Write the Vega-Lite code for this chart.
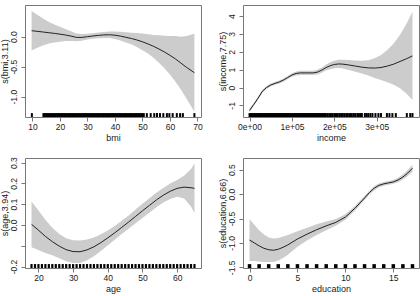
{
"$schema": "https://vega.github.io/schema/vega-lite/v6.json",
"autosize": {"type": "none"},
"padding": {"left": 25, "top": 5, "right": 395, "bottom": 291},
"background": "white",
"datasets": {
"bmi_fit": [
{"x":9.7,"fit":0.100,"lo":-0.230,"hi":0.430},{"x":12,"fit":0.088,"lo":-0.182,"hi":0.358},{"x":14,"fit":0.077,"lo":-0.143,"hi":0.297},{"x":16,"fit":0.066,"lo":-0.114,"hi":0.246},{"x":18,"fit":0.055,"lo":-0.095,"hi":0.205},{"x":20,"fit":0.042,"lo":-0.083,"hi":0.167},{"x":22,"fit":0.028,"lo":-0.072,"hi":0.128},{"x":24,"fit":0.010,"lo":-0.070,"hi":0.090},{"x":26,"fit":-0.012,"lo":-0.077,"hi":0.053},{"x":28,"fit":-0.012,"lo":-0.067,"hi":0.043},{"x":30,"fit":0.000,"lo":-0.048,"hi":0.048},{"x":32,"fit":0.012,"lo":-0.034,"hi":0.058},{"x":34,"fit":0.022,"lo":-0.024,"hi":0.068},{"x":36,"fit":0.030,"lo":-0.020,"hi":0.080},{"x":38,"fit":0.032,"lo":-0.023,"hi":0.087},{"x":40,"fit":0.025,"lo":-0.037,"hi":0.087},{"x":42,"fit":0.010,"lo":-0.062,"hi":0.082},{"x":44,"fit":-0.010,"lo":-0.095,"hi":0.075},{"x":46,"fit":-0.030,"lo":-0.125,"hi":0.065},{"x":48,"fit":-0.055,"lo":-0.170,"hi":0.060},{"x":50,"fit":-0.085,"lo":-0.225,"hi":0.055},{"x":52,"fit":-0.120,"lo":-0.280,"hi":0.040},{"x":54,"fit":-0.160,"lo":-0.350,"hi":0.030},{"x":56,"fit":-0.205,"lo":-0.435,"hi":0.025},{"x":58,"fit":-0.255,"lo":-0.525,"hi":0.015},{"x":60,"fit":-0.310,"lo":-0.630,"hi":0.010},{"x":62,"fit":-0.370,"lo":-0.750,"hi":0.010},{"x":64,"fit":-0.440,"lo":-0.880,"hi":0.000},{"x":66,"fit":-0.510,"lo":-1.030,"hi":0.010},{"x":68.9,"fit":-0.600,"lo":-1.250,"hi":0.050}
],
"bmi_rug": [
{"x":9.8},{"x":14},{"x":14.5},{"x":15},{"x":15.5},{"x":16},{"x":16.5},{"x":17},{"x":17.5},{"x":18},{"x":18.5},{"x":19},{"x":19.5},{"x":20},{"x":20.5},{"x":21},{"x":21.5},{"x":22},{"x":22.5},{"x":23},{"x":23.5},{"x":24},{"x":24.5},{"x":25},{"x":25.5},{"x":26},{"x":26.5},{"x":27},{"x":27.5},{"x":28},{"x":28.5},{"x":29},{"x":29.5},{"x":30},{"x":30.5},{"x":31},{"x":31.5},{"x":32},{"x":32.5},{"x":33},{"x":33.5},{"x":34},{"x":34.5},{"x":35},{"x":35.5},{"x":36},{"x":36.5},{"x":37},{"x":37.5},{"x":38},{"x":38.5},{"x":39},{"x":39.5},{"x":40},{"x":40.5},{"x":41},{"x":41.5},{"x":42},{"x":42.5},{"x":43},{"x":43.5},{"x":44},{"x":44.5},{"x":45},{"x":45.5},{"x":46},{"x":46.5},{"x":47},{"x":47.5},{"x":48},{"x":48.5},{"x":49},{"x":49.5},{"x":50},{"x":50.5},{"x":51.6},{"x":53.0},{"x":54.3},{"x":55.3},{"x":56.4},{"x":57.6},{"x":58.9},{"x":59.8},{"x":61.0},{"x":62.5},{"x":63.7},{"x":64.7},{"x":68.9}
],
"inc_fit": [
{"x":0,"fit":-1.28,"lo":-1.38,"hi":-1.18},{"x":10000,"fit":-0.95,"lo":-1.04,"hi":-0.86},{"x":20000,"fit":-0.60,"lo":-0.68,"hi":-0.52},{"x":30000,"fit":-0.22,"lo":-0.30,"hi":-0.14},{"x":40000,"fit":0.00,"lo":-0.08,"hi":0.08},{"x":50000,"fit":0.14,"lo":0.06,"hi":0.22},{"x":60000,"fit":0.23,"lo":0.15,"hi":0.31},{"x":70000,"fit":0.31,"lo":0.23,"hi":0.39},{"x":80000,"fit":0.42,"lo":0.33,"hi":0.51},{"x":90000,"fit":0.56,"lo":0.47,"hi":0.65},{"x":100000,"fit":0.70,"lo":0.60,"hi":0.80},{"x":110000,"fit":0.79,"lo":0.68,"hi":0.90},{"x":120000,"fit":0.82,"lo":0.70,"hi":0.94},{"x":135000,"fit":0.82,"lo":0.70,"hi":0.94},{"x":150000,"fit":0.82,"lo":0.70,"hi":0.94},{"x":160000,"fit":0.86,"lo":0.73,"hi":0.99},{"x":170000,"fit":0.97,"lo":0.83,"hi":1.11},{"x":180000,"fit":1.11,"lo":0.95,"hi":1.27},{"x":190000,"fit":1.22,"lo":1.03,"hi":1.41},{"x":200000,"fit":1.29,"lo":1.08,"hi":1.50},{"x":210000,"fit":1.32,"lo":1.09,"hi":1.55},{"x":220000,"fit":1.31,"lo":1.06,"hi":1.56},{"x":235000,"fit":1.26,"lo":0.98,"hi":1.54},{"x":250000,"fit":1.20,"lo":0.89,"hi":1.51},{"x":265000,"fit":1.14,"lo":0.78,"hi":1.50},{"x":280000,"fit":1.10,"lo":0.67,"hi":1.53},{"x":295000,"fit":1.09,"lo":0.54,"hi":1.64},{"x":310000,"fit":1.12,"lo":0.42,"hi":1.82},{"x":325000,"fit":1.20,"lo":0.30,"hi":2.10},{"x":340000,"fit":1.31,"lo":0.16,"hi":2.46},{"x":355000,"fit":1.46,"lo":-0.04,"hi":2.96},{"x":370000,"fit":1.61,"lo":-0.34,"hi":3.56},{"x":384300,"fit":1.77,"lo":-0.70,"hi":4.24}
],
"inc_rug": [
{"x":0},{"x":3000},{"x":6000},{"x":9000},{"x":12000},{"x":15000},{"x":18000},{"x":21000},{"x":24000},{"x":27000},{"x":30000},{"x":33000},{"x":36000},{"x":39000},{"x":42000},{"x":45000},{"x":48000},{"x":51000},{"x":54000},{"x":57000},{"x":60000},{"x":63000},{"x":66000},{"x":69000},{"x":72000},{"x":75000},{"x":78000},{"x":81000},{"x":84000},{"x":87000},{"x":90000},{"x":93000},{"x":96000},{"x":99000},{"x":102000},{"x":105000},{"x":108000},{"x":111000},{"x":114000},{"x":117000},{"x":120000},{"x":123000},{"x":126000},{"x":129000},{"x":132000},{"x":135000},{"x":138000},{"x":141000},{"x":144000},{"x":147000},{"x":150000},{"x":153000},{"x":156000},{"x":159000},{"x":162000},{"x":165000},{"x":168000},{"x":171000},{"x":174000},{"x":177000},{"x":180000},{"x":184000},{"x":188000},{"x":192000},{"x":196000},{"x":200000},{"x":204000},{"x":208000},{"x":212000},{"x":216000},{"x":220000},{"x":224000},{"x":228000},{"x":232000},{"x":237000},{"x":241000},{"x":245000},{"x":249000},{"x":254000},{"x":258000},{"x":262000},{"x":265000},{"x":272000},{"x":276000},{"x":280000},{"x":285000},{"x":290000},{"x":297000},{"x":304000},{"x":310000},{"x":324000},{"x":330000},{"x":337000},{"x":345000},{"x":371000},{"x":379000},{"x":384300}
],
"age_fit": [
{"x":18,"fit":0.003,"lo":-0.107,"hi":0.113},{"x":20,"fit":-0.025,"lo":-0.120,"hi":0.070},{"x":22,"fit":-0.055,"lo":-0.135,"hi":0.025},{"x":24,"fit":-0.080,"lo":-0.146,"hi":-0.014},{"x":26,"fit":-0.102,"lo":-0.160,"hi":-0.044},{"x":28,"fit":-0.119,"lo":-0.174,"hi":-0.064},{"x":30,"fit":-0.128,"lo":-0.183,"hi":-0.073},{"x":32,"fit":-0.129,"lo":-0.183,"hi":-0.075},{"x":34,"fit":-0.120,"lo":-0.170,"hi":-0.070},{"x":36,"fit":-0.105,"lo":-0.150,"hi":-0.060},{"x":38,"fit":-0.085,"lo":-0.125,"hi":-0.045},{"x":40,"fit":-0.062,"lo":-0.097,"hi":-0.027},{"x":42,"fit":-0.038,"lo":-0.071,"hi":-0.005},{"x":44,"fit":-0.012,"lo":-0.044,"hi":0.020},{"x":46,"fit":0.014,"lo":-0.018,"hi":0.046},{"x":48,"fit":0.041,"lo":0.008,"hi":0.074},{"x":50,"fit":0.068,"lo":0.034,"hi":0.102},{"x":52,"fit":0.094,"lo":0.059,"hi":0.129},{"x":54,"fit":0.120,"lo":0.085,"hi":0.155},{"x":56,"fit":0.143,"lo":0.108,"hi":0.178},{"x":58,"fit":0.162,"lo":0.125,"hi":0.199},{"x":60,"fit":0.176,"lo":0.136,"hi":0.216},{"x":62,"fit":0.182,"lo":0.127,"hi":0.237},{"x":64,"fit":0.179,"lo":0.089,"hi":0.269},{"x":65,"fit":0.176,"lo":0.056,"hi":0.296}
],
"age_rug": [
{"x":18},{"x":19},{"x":20},{"x":21},{"x":22},{"x":23},{"x":24},{"x":25},{"x":26},{"x":27},{"x":28},{"x":29},{"x":30},{"x":31},{"x":32},{"x":33},{"x":34},{"x":35},{"x":36},{"x":37},{"x":38},{"x":39},{"x":40},{"x":41},{"x":42},{"x":43},{"x":44},{"x":45},{"x":46},{"x":47},{"x":48},{"x":49},{"x":50},{"x":51},{"x":52},{"x":53},{"x":54},{"x":55},{"x":56},{"x":57},{"x":58},{"x":59},{"x":60},{"x":61},{"x":62},{"x":63},{"x":64},{"x":65}
],
"edu_fit": [
{"x":0,"fit":-0.94,"lo":-1.37,"hi":-0.51},{"x":0.5,"fit":-1.00,"lo":-1.37,"hi":-0.63},{"x":1,"fit":-1.06,"lo":-1.38,"hi":-0.74},{"x":1.5,"fit":-1.11,"lo":-1.39,"hi":-0.83},{"x":2,"fit":-1.14,"lo":-1.39,"hi":-0.89},{"x":2.5,"fit":-1.15,"lo":-1.39,"hi":-0.91},{"x":3,"fit":-1.13,"lo":-1.36,"hi":-0.90},{"x":3.5,"fit":-1.09,"lo":-1.31,"hi":-0.87},{"x":4,"fit":-1.04,"lo":-1.24,"hi":-0.84},{"x":5,"fit":-0.92,"lo":-1.08,"hi":-0.76},{"x":6,"fit":-0.82,"lo":-0.95,"hi":-0.69},{"x":7,"fit":-0.73,"lo":-0.84,"hi":-0.62},{"x":8,"fit":-0.65,"lo":-0.74,"hi":-0.56},{"x":9,"fit":-0.58,"lo":-0.65,"hi":-0.51},{"x":10,"fit":-0.47,"lo":-0.525,"hi":-0.415},{"x":11,"fit":-0.29,"lo":-0.335,"hi":-0.245},{"x":12,"fit":-0.08,"lo":-0.12,"hi":-0.04},{"x":12.5,"fit":0.03,"lo":-0.01,"hi":0.07},{"x":13,"fit":0.12,"lo":0.08,"hi":0.16},{"x":13.5,"fit":0.18,"lo":0.14,"hi":0.22},{"x":14,"fit":0.21,"lo":0.17,"hi":0.25},{"x":14.5,"fit":0.23,"lo":0.19,"hi":0.27},{"x":15,"fit":0.25,"lo":0.21,"hi":0.29},{"x":15.5,"fit":0.29,"lo":0.245,"hi":0.335},{"x":16,"fit":0.35,"lo":0.30,"hi":0.40},{"x":16.5,"fit":0.43,"lo":0.37,"hi":0.49},{"x":17,"fit":0.53,"lo":0.46,"hi":0.60}
],
"edu_rug": [
{"x":0},{"x":1},{"x":2},{"x":3},{"x":4},{"x":5},{"x":6},{"x":7},{"x":8},{"x":9},{"x":10},{"x":11},{"x":12},{"x":13},{"x":14},{"x":15},{"x":16},{"x":17}
]
},
"columns": 2,
"spacing": {"row": 41, "column": 42},
"bounds": "flush",
"concat": [
{
"width": 176, "height": 112,
"layer": [
{"data": {"name": "bmi_fit"}, "mark": {"type": "area", "color": "#cccccc"},
 "encoding": {
  "x": {"field": "x", "type": "quantitative", "title": "bmi", "scale": {"domain": [7.3, 71.3], "nice": false, "zero": false}, "axis": {"values": [10, 20, 30, 40, 50, 60, 70], "labelOverlap": false}},
  "y": {"field": "lo", "type": "quantitative", "title": "s(bmi,3.11)", "scale": {"domain": [-1.338, 0.528], "nice": false, "zero": false}, "axis": {"values": [-1, -0.5, 0], "labelOverlap": false, "labelExpr": "datum.value < 0 ? '-' + format(-datum.value, '.1f') : format(datum.value, '.1f')"}},
  "y2": {"field": "hi"}}},
{"data": {"name": "bmi_fit"}, "mark": {"type": "line", "color": "#222222", "strokeWidth": 1},
 "encoding": {
  "x": {"field": "x", "type": "quantitative", "title": "bmi", "axis": {"values": [10, 20, 30, 40, 50, 60, 70], "labelOverlap": false}},
  "y": {"field": "fit", "type": "quantitative", "title": "s(bmi,3.11)", "axis": {"values": [-1, -0.5, 0], "labelOverlap": false, "labelExpr": "datum.value < 0 ? '-' + format(-datum.value, '.1f') : format(datum.value, '.1f')"}}}},
{"data": {"name": "bmi_rug"}, "mark": {"type": "rule", "color": "black", "strokeWidth": 2},
 "encoding": {
  "x": {"field": "x", "type": "quantitative", "title": "bmi", "axis": {"values": [10, 20, 30, 40, 50, 60, 70], "labelOverlap": false}},
  "y": {"datum": -1.338, "type": "quantitative", "title": "s(bmi,3.11)", "axis": {"values": [-1, -0.5, 0], "labelOverlap": false, "labelExpr": "datum.value < 0 ? '-' + format(-datum.value, '.1f') : format(datum.value, '.1f')"}},
  "y2": {"datum": -1.273}}}
]
},
{
"width": 176, "height": 112,
"layer": [
{"data": {"name": "inc_fit"}, "mark": {"type": "area", "color": "#cccccc"},
 "encoding": {
  "x": {"field": "x", "type": "quantitative", "title": "income", "scale": {"domain": [-15400, 399700], "nice": false, "zero": false}, "axis": {"values": [0, 100000, 200000, 300000], "labelOverlap": false, "labelExpr": "(datum.value / 100000) + (datum.value == 0 ? 'e+00' : 'e+05')"}},
  "y": {"field": "lo", "type": "quantitative", "title": "s(income,7.75)", "scale": {"domain": [-1.65, 4.62], "nice": false, "zero": false}, "axis": {"values": [-1, 0, 1, 2, 3, 4], "labelOverlap": false, "labelExpr": "datum.value < 0 ? '-' + format(-datum.value, 'd') : format(datum.value, 'd')"}},
  "y2": {"field": "hi"}}},
{"data": {"name": "inc_fit"}, "mark": {"type": "line", "color": "#222222", "strokeWidth": 1},
 "encoding": {
  "x": {"field": "x", "type": "quantitative", "title": "income", "axis": {"values": [0, 100000, 200000, 300000], "labelOverlap": false, "labelExpr": "(datum.value / 100000) + (datum.value == 0 ? 'e+00' : 'e+05')"}},
  "y": {"field": "fit", "type": "quantitative", "title": "s(income,7.75)", "axis": {"values": [-1, 0, 1, 2, 3, 4], "labelOverlap": false, "labelExpr": "datum.value < 0 ? '-' + format(-datum.value, 'd') : format(datum.value, 'd')"}}}},
{"data": {"name": "inc_rug"}, "mark": {"type": "rule", "color": "black", "strokeWidth": 2},
 "encoding": {
  "x": {"field": "x", "type": "quantitative", "title": "income", "axis": {"values": [0, 100000, 200000, 300000], "labelOverlap": false, "labelExpr": "(datum.value / 100000) + (datum.value == 0 ? 'e+00' : 'e+05')"}},
  "y": {"datum": -1.65, "type": "quantitative", "title": "s(income,7.75)", "axis": {"values": [-1, 0, 1, 2, 3, 4], "labelOverlap": false, "labelExpr": "datum.value < 0 ? '-' + format(-datum.value, 'd') : format(datum.value, 'd')"}},
  "y2": {"datum": -1.43}}}
]
},
{
"width": 176, "height": 110,
"layer": [
{"data": {"name": "age_fit"}, "mark": {"type": "area", "color": "#cccccc"},
 "encoding": {
  "x": {"field": "x", "type": "quantitative", "title": "age", "scale": {"domain": [16.12, 66.88], "nice": false, "zero": false}, "axis": {"values": [20, 30, 40, 50, 60], "labelOverlap": false}},
  "y": {"field": "lo", "type": "quantitative", "title": "s(age,3.94)", "scale": {"domain": [-0.207, 0.322], "nice": false, "zero": false}, "axis": {"values": [-0.2, -0.1, 0, 0.1, 0.2, 0.3], "labelOverlap": false, "labelExpr": "datum.value == -0.1 ? '' : (datum.value < 0 ? '-' + format(-datum.value, '.1f') : format(datum.value, '.1f'))"}},
  "y2": {"field": "hi"}}},
{"data": {"name": "age_fit"}, "mark": {"type": "line", "color": "#222222", "strokeWidth": 1},
 "encoding": {
  "x": {"field": "x", "type": "quantitative", "title": "age", "axis": {"values": [20, 30, 40, 50, 60], "labelOverlap": false}},
  "y": {"field": "fit", "type": "quantitative", "title": "s(age,3.94)", "axis": {"values": [-0.2, -0.1, 0, 0.1, 0.2, 0.3], "labelOverlap": false, "labelExpr": "datum.value == -0.1 ? '' : (datum.value < 0 ? '-' + format(-datum.value, '.1f') : format(datum.value, '.1f'))"}}}},
{"data": {"name": "age_rug"}, "mark": {"type": "rule", "color": "black", "strokeWidth": 2.2},
 "encoding": {
  "x": {"field": "x", "type": "quantitative", "title": "age", "axis": {"values": [20, 30, 40, 50, 60], "labelOverlap": false}},
  "y": {"datum": -0.207, "type": "quantitative", "title": "s(age,3.94)", "axis": {"values": [-0.2, -0.1, 0, 0.1, 0.2, 0.3], "labelOverlap": false, "labelExpr": "datum.value == -0.1 ? '' : (datum.value < 0 ? '-' + format(-datum.value, '.1f') : format(datum.value, '.1f'))"}},
  "y2": {"datum": -0.188}}}
]
},
{
"width": 176, "height": 110,
"layer": [
{"data": {"name": "edu_fit"}, "mark": {"type": "area", "color": "#cccccc"},
 "encoding": {
  "x": {"field": "x", "type": "quantitative", "title": "education", "scale": {"domain": [-0.68, 17.68], "nice": false, "zero": false}, "axis": {"values": [0, 5, 10, 15], "labelOverlap": false}},
  "y": {"field": "lo", "type": "quantitative", "title": "s(education,6.66)", "scale": {"domain": [-1.514, 0.74], "nice": false, "zero": false}, "axis": {"values": [-1.5, -1, -0.5, 0, 0.5], "labelOverlap": false, "labelExpr": "datum.value < 0 ? '-' + format(-datum.value, '.1f') : format(datum.value, '.1f')"}},
  "y2": {"field": "hi"}}},
{"data": {"name": "edu_fit"}, "mark": {"type": "line", "color": "#222222", "strokeWidth": 1},
 "encoding": {
  "x": {"field": "x", "type": "quantitative", "title": "education", "axis": {"values": [0, 5, 10, 15], "labelOverlap": false}},
  "y": {"field": "fit", "type": "quantitative", "title": "s(education,6.66)", "axis": {"values": [-1.5, -1, -0.5, 0, 0.5], "labelOverlap": false, "labelExpr": "datum.value < 0 ? '-' + format(-datum.value, '.1f') : format(datum.value, '.1f')"}}}},
{"data": {"name": "edu_rug"}, "mark": {"type": "rule", "color": "black", "strokeWidth": 3.5},
 "encoding": {
  "x": {"field": "x", "type": "quantitative", "title": "education", "axis": {"values": [0, 5, 10, 15], "labelOverlap": false}},
  "y": {"datum": -1.514, "type": "quantitative", "title": "s(education,6.66)", "axis": {"values": [-1.5, -1, -0.5, 0, 0.5], "labelOverlap": false, "labelExpr": "datum.value < 0 ? '-' + format(-datum.value, '.1f') : format(datum.value, '.1f')"}},
  "y2": {"datum": -1.435}}}
]
}
],
"config": {
 "view": {"stroke": "#777777", "strokeWidth": 1},
 "axis": {"domain": false, "grid": false, "tickColor": "#777777", "tickSize": 4, "labelFont": "Liberation Sans", "titleFont": "Liberation Sans", "labelFontSize": 8.5, "titleFontSize": 9, "labelColor": "#1a1a1a", "titleColor": "#1a1a1a", "titleFontWeight": "normal", "labelOverlap": false, "labelFlush": false},
 "axisX": {"labelPadding": 1, "titlePadding": 3, "minExtent": 13, "maxExtent": 13},
 "axisY": {"labelAngle": -90, "labelAlign": "center", "labelBaseline": "bottom", "labelPadding": 3, "titlePadding": 1, "minExtent": 15, "maxExtent": 15}
}
}
